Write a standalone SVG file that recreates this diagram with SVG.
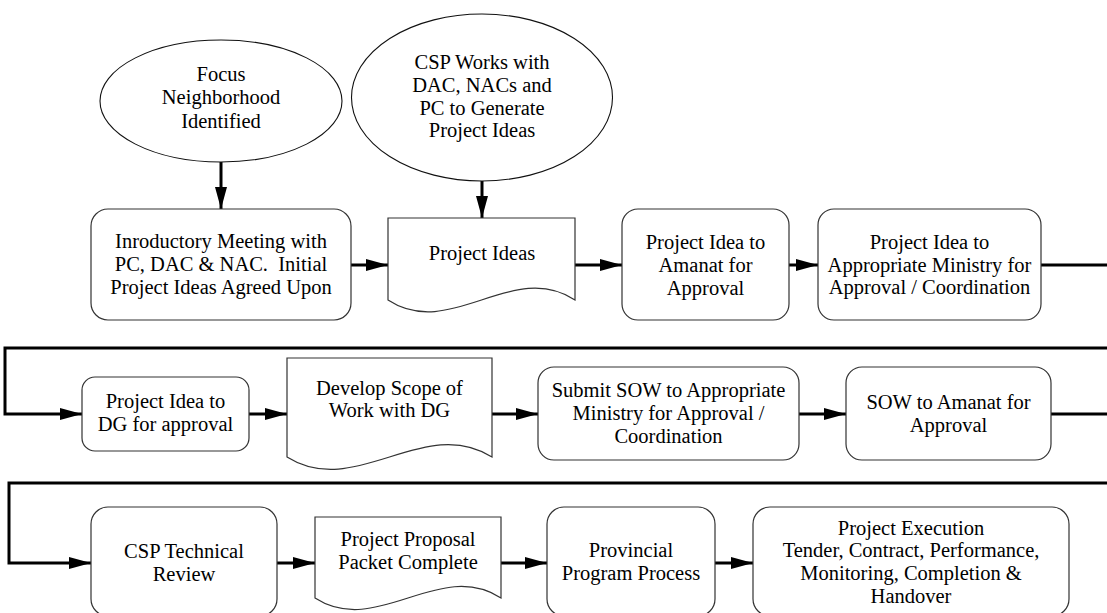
<svg xmlns="http://www.w3.org/2000/svg" width="1107" height="613" viewBox="0 0 1107 613">
  <defs>
    <style>
      .shape { fill: #ffffff; stroke: #333333; stroke-width: 1.2; }
      .oval { fill: #ffffff; stroke: #111111; stroke-width: 1.1; }
      .lbl { font-size: 20.5px; fill: #000000; text-anchor: middle; }
      .flow { fill: none; stroke: #000000; stroke-width: 3; }
      .flow-arrow { fill: none; stroke: #000000; stroke-width: 3; marker-end: url(#head); }
    </style>
    <marker id="head" markerUnits="userSpaceOnUse" markerWidth="22" markerHeight="12" refX="22" refY="6" orient="auto">
      <path d="M0,0 L22,6 L0,12 Z" fill="#000000"/>
    </marker>
  </defs>
  <rect width="1107" height="613" fill="#ffffff"/>

  <!-- connectors -->
  <g id="connectors">
    <line class="flow-arrow" x1="221" y1="162" x2="221" y2="209"/>
    <line class="flow-arrow" x1="482" y1="181" x2="482" y2="218"/>
    <line class="flow-arrow" x1="351" y1="265" x2="388" y2="265"/>
    <line class="flow-arrow" x1="575" y1="265" x2="622" y2="265"/>
    <line class="flow-arrow" x1="789" y1="265" x2="818" y2="265"/>
    <polyline class="flow" points="1041,265 1110,265"/>
    <polyline class="flow-arrow" points="1110,348 5,348 5,414 82,414"/>
    <line class="flow-arrow" x1="249" y1="414" x2="287" y2="414"/>
    <line class="flow-arrow" x1="492" y1="414" x2="538" y2="414"/>
    <line class="flow-arrow" x1="799" y1="414" x2="846" y2="414"/>
    <polyline class="flow" points="1051,414 1110,414"/>
    <polyline class="flow-arrow" points="1110,483 9,483 9,563 91,563"/>
    <line class="flow-arrow" x1="277" y1="563" x2="315" y2="563"/>
    <line class="flow-arrow" x1="501" y1="563" x2="547" y2="563"/>
    <line class="flow-arrow" x1="715" y1="563" x2="753" y2="563"/>
  </g>

  <g font-family="Liberation Serif, Times New Roman, Tinos, serif">
  <!-- row 1 -->
  <g id="focus-neighborhood">
    <ellipse class="oval" cx="221" cy="101" rx="121" ry="61"/>
    <text class="lbl" x="221" y="81">Focus</text>
    <text class="lbl" x="221" y="104">Neighborhood</text>
    <text class="lbl" x="221" y="128">Identified</text>
  </g>
  <g id="csp-works">
    <ellipse class="oval" cx="482" cy="97.5" rx="130.5" ry="83.5"/>
    <text class="lbl" x="482" y="69">CSP Works with</text>
    <text class="lbl" x="482" y="92">DAC, NACs and</text>
    <text class="lbl" x="482" y="115">PC to Generate</text>
    <text class="lbl" x="482" y="137">Project Ideas</text>
  </g>
  <g id="introductory-meeting">
    <rect class="shape" x="91" y="209" width="260" height="111" rx="17"/>
    <text class="lbl" x="221" y="248">Inroductory Meeting with</text>
    <text class="lbl" x="221" y="271" xml:space="preserve">PC, DAC &amp; NAC.  Initial</text>
    <text class="lbl" x="221" y="294">Project Ideas Agreed Upon</text>
  </g>
  <g id="project-ideas">
    <path class="shape" d="M388,218 H575 V300 C512.7,259 450.3,341 388,300 Z"/>
    <text class="lbl" x="482" y="260">Project Ideas</text>
  </g>
  <g id="idea-to-amanat">
    <rect class="shape" x="622" y="209" width="167" height="111" rx="16"/>
    <text class="lbl" x="705.5" y="249">Project Idea to</text>
    <text class="lbl" x="705.5" y="272">Amanat for</text>
    <text class="lbl" x="705.5" y="295">Approval</text>
  </g>
  <g id="idea-to-ministry">
    <rect class="shape" x="818" y="209" width="223" height="111" rx="16"/>
    <text class="lbl" x="929.5" y="249">Project Idea to</text>
    <text class="lbl" x="929.5" y="272">Appropriate Ministry for</text>
    <text class="lbl" x="929.5" y="294">Approval / Coordination</text>
  </g>

  <!-- row 2 -->
  <g id="idea-to-dg">
    <rect class="shape" x="82" y="377" width="167" height="74" rx="13"/>
    <text class="lbl" x="165.5" y="408">Project Idea to</text>
    <text class="lbl" x="165.5" y="431">DG for approval</text>
  </g>
  <g id="develop-scope">
    <path class="shape" d="M287,358 H492 V457 C423.7,414 355.3,500 287,457 Z"/>
    <text class="lbl" x="389.5" y="395">Develop Scope of</text>
    <text class="lbl" x="389.5" y="417">Work with DG</text>
  </g>
  <g id="sow-to-ministry">
    <rect class="shape" x="538" y="367" width="261" height="93" rx="16"/>
    <text class="lbl" x="668.5" y="397">Submit SOW to Appropriate</text>
    <text class="lbl" x="668.5" y="420">Ministry for Approval /</text>
    <text class="lbl" x="668.5" y="443">Coordination</text>
  </g>
  <g id="sow-to-amanat">
    <rect class="shape" x="846" y="367" width="205" height="93" rx="16"/>
    <text class="lbl" x="948.5" y="409">SOW to Amanat for</text>
    <text class="lbl" x="948.5" y="432">Approval</text>
  </g>

  <!-- row 3 -->
  <g id="technical-review">
    <rect class="shape" x="91" y="507" width="186" height="109" rx="17"/>
    <text class="lbl" x="184" y="558">CSP Technical</text>
    <text class="lbl" x="184" y="581">Review</text>
  </g>
  <g id="proposal-packet">
    <path class="shape" d="M315,517 H501 V598 C439,558 377,638 315,598 Z"/>
    <text class="lbl" x="408" y="546">Project Proposal</text>
    <text class="lbl" x="408" y="569">Packet Complete</text>
  </g>
  <g id="provincial-process">
    <rect class="shape" x="547" y="507" width="168" height="109" rx="17"/>
    <text class="lbl" x="631" y="557">Provincial</text>
    <text class="lbl" x="631" y="580">Program Process</text>
  </g>
  <g id="project-execution">
    <rect class="shape" x="753" y="507" width="316" height="109" rx="17"/>
    <text class="lbl" x="911" y="535">Project Execution</text>
    <text class="lbl" x="911" y="557">Tender, Contract, Performance,</text>
    <text class="lbl" x="911" y="580">Monitoring, Completion &amp;</text>
    <text class="lbl" x="911" y="603">Handover</text>
  </g>
  </g>
</svg>
